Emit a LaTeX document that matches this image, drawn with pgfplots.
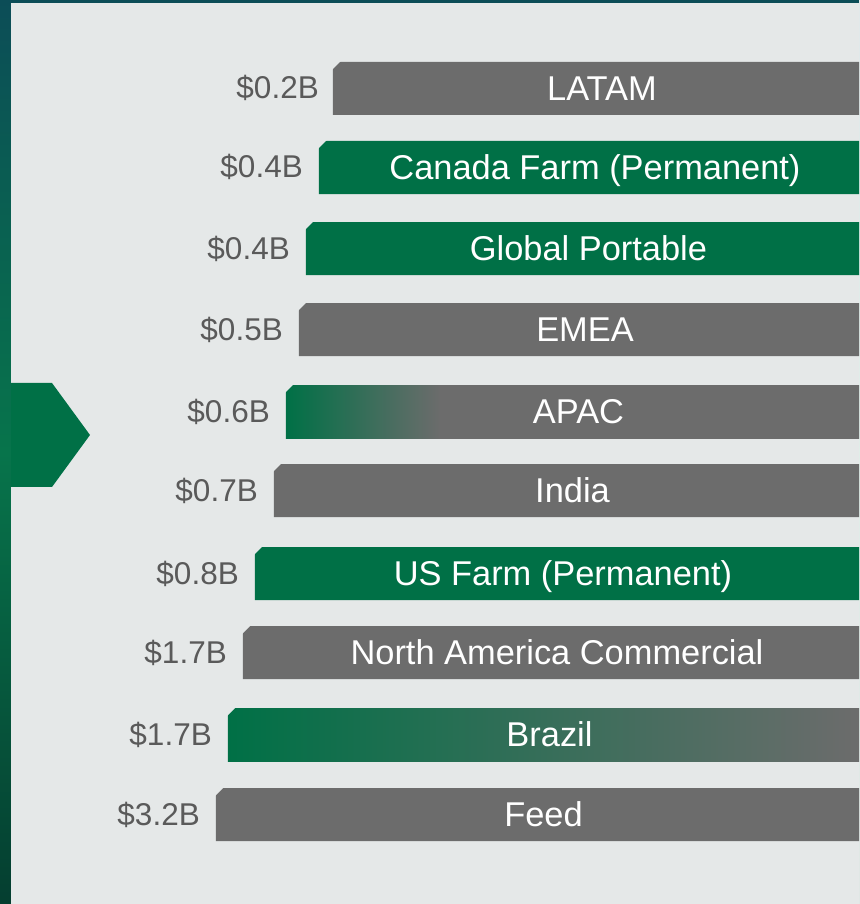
\documentclass[border=0pt]{standalone}
\usepackage{pgfplots}
\pgfplotsset{compat=1.18}
\usepackage{fontspec}
\setmainfont{Liberation Sans}

\definecolor{brandGreen}{HTML}{007046}
\definecolor{barGray}{HTML}{6C6C6C}
\definecolor{valGray}{HTML}{5A5A5A}
\definecolor{panel}{HTML}{E5E8E8}
\definecolor{darkTop}{HTML}{0C4D57}
\definecolor{darkMid}{HTML}{07744B}
\definecolor{darkBot}{HTML}{053E30}

% dollar sign that survives the meta expansion
\def\dol{\char36 }

% APAC bar: green fades into gray over the first ~27% of the bar
\pgfdeclarehorizontalshading{apacshade}{100bp}{color(0bp)=(brandGreen); color(25bp)=(brandGreen); color(38.5bp)=(barGray); color(100bp)=(barGray)}

\begin{document}
\begin{tikzpicture}[x=1pt,y=1pt]
% backdrop and panel
\shade[top color=darkTop, bottom color=darkBot, middle color=darkMid] (0,0) rectangle (859,904);
\fill[panel] (11,0) rectangle (859,901);
% chevron on the left
\fill[brandGreen] (11,521) -- (52,521) -- (90,469) -- (52,417) -- (11,417) -- cycle;

\begin{axis}[
    at={(0pt,0pt)}, anchor=south west,
    scale only axis, width=859pt, height=904pt,
    hide axis,
    xmin=0, xmax=859, ymin=0, ymax=904,
    x dir=reverse, y dir=reverse,
    xbar, bar width=53, bar shift=0pt,
    every axis plot/.append style={draw=none},
]
% bar length (px from the right edge), row centre
\addplot[fill=barGray] coordinates {(526,88.5) (560,329.5) (585,490.5) (616,652.5) (643,814.5)};
\addplot[fill=brandGreen] coordinates {(540,167.5) (553,248.5) (604,573.5)};
\addplot[shade, shading=apacshade] coordinates {(573,411.5)};
\addplot[left color=brandGreen, right color=barGray] coordinates {(631,734.5)};

% cut top-left corners
\foreach \barlen/\bartop in {526/62,540/141,553/222,560/303,573/385,585/464,604/547,616/626,631/708,643/788}{
  \edef\tmp{\noexpand\fill[panel] (axis cs:\barlen+1,\bartop-1) -- (axis cs:\barlen-8,\bartop-1) -- (axis cs:\barlen+1,\bartop+8) -- cycle;}
  \tmp
}

% value labels left of bars
\addplot[xbar=0pt, draw=none, fill=none, mark=none,
    nodes near coords, point meta=explicit symbolic,
    every node near coord/.append style={anchor=base east, yshift=-10.5pt, text=valGray,
        font=\fontsize{31.5}{36}\selectfont, inner sep=0pt}]
    coordinates {
    (540,88.5)  [\dol0.2B]
    (556,167.5) [\dol0.4B]
    (569,248.5) [\dol0.4B]
    (576,329.5) [\dol0.5B]
    (589,411.5) [\dol0.6B]
    (601,490.5) [\dol0.7B]
    (620,573.5) [\dol0.8B]
    (632,652.5) [\dol1.7B]
    (647,734.5) [\dol1.7B]
    (659,814.5) [\dol3.2B]
    };

% segment names centred in bars
\addplot[only marks, mark=none, xbar=0pt, draw=none, fill=none,
    nodes near coords, point meta=explicit symbolic,
    every node near coord/.append style={anchor=base, yshift=-12.3pt, text=white,
        font=\fontsize{34.4}{40}\selectfont, inner sep=0pt}]
    coordinates {
    (257,88.5)   [LATAM]
    (264,167.5)  [Canada Farm (Permanent)]
    (270.5,248.5)[Global Portable]
    (274,329.5)  [EMEA]
    (280.5,411.5)[APAC]
    (286.5,490.5)[India]
    (296,573.5)  [US Farm (Permanent)]
    (302,652.5)  [North America Commercial]
    (309.5,734.5)[Brazil]
    (315.5,814.5)[Feed]
    };
\end{axis}
\end{tikzpicture}
\end{document}
